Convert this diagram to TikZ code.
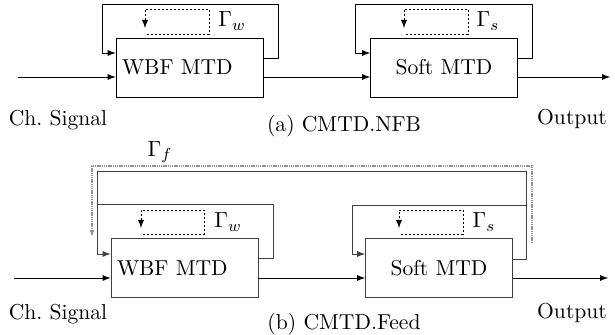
\documentclass[tikz,border=0pt]{standalone}
\usetikzlibrary{arrows,arrows.meta}
\tikzset{
  block/.style={draw, minimum height=29.5pt, inner xsep=3pt, text width=67.5pt},
  sig/.style={-latex},
  fb/.style={draw=black!75, -latex},
  spin/.style={dash pattern=on 1.2pt off 0.8pt, -latex},
  outerfb/.style={draw=gray!85, line width=0.9pt, dash pattern=on 0.7pt off 0.4pt,
    -{Latex[length=3.5pt,width=2.6pt]}}
}
\begin{document}
\begin{tikzpicture}[x=0.5pt,y=-0.5pt,font=\fontsize{10.8pt}{13pt}\selectfont]
  \useasboundingbox (0,0) rectangle (615,335);

  % (a) no feedback between the decoders
  \node[block, align=left] (wbfA) at (189.5,67.5) {WBF MTD};
  \node[block, align=center] (softA) at (444,67.5) {Soft MTD};
  \coordinate (inA) at (18,77);
  \coordinate (outA) at (610,77);
  \node (chA) at (58,120) {Ch.~Signal};
  \node (opA) at (572,119) {Output};
  \node (capA) at (344,126) {(a) CMTD.NFB};

  \draw[sig] (inA) -- (inA -| wbfA.west);
  \draw[sig] (wbfA.east |- inA) -- (softA.west |- inA);
  \draw[sig] (softA.east |- inA) -- (outA);

  \draw[sig] (wbfA.east |- 0,58) -- (278,58) |- (102,4) |- (wbfA.west |- 0,53);
  \draw[sig] (softA.east |- 0,58) -- (532,58) |- (355,4) |- (softA.west |- 0,53);

  \draw[spin] (147,34) -- (209,34) -- (209,9) -- (145,9) -- (145,28);
  \draw[spin] (406,34) -- (468,34) -- (468,9) -- (404,9) -- (404,28);
  \node (gwA) at (232,21) {$\Gamma_w$};
  \node (gsA) at (488,21) {$\Gamma_s$};

  % (b) soft output fed back to the WBF decoder
  \node[block, draw=black!75, align=left] (wbfB) at (184.5,268) {WBF MTD};
  \node[block, draw=black!75, align=center] (softB) at (439,268) {Soft MTD};
  \coordinate (inB) at (14,278);
  \coordinate (outB) at (608,278);
  \node (chB) at (58,314) {Ch.~Signal};
  \node (opB) at (572,313) {Output};
  \node (capB) at (344,324) {(b) CMTD.Feed};

  \draw[sig] (inB) -- (inB -| wbfB.west);
  \draw[sig] (wbfB.east |- inB) -- (softB.west |- inB);
  \draw[sig] (softB.east |- inB) -- (outB);

  \draw[fb] (wbfB.east |- 0,258) -- (273,258) |- (97,204) |- (wbfB.west |- 0,254);
  \draw[fb, -] (softB.east |- 0,259) -- (526,259) |- (97,171) -- (97,204);
  \draw[fb] (526,205) -- (352,205) |- (softB.west |- 0,254);

  \draw[outerfb] (532,243) -- (532,166) -- (92,166) -- (92,237);
  \node (gf) at (160,152) {$\Gamma_f$};

  \draw[spin] (143,234) -- (204,234) -- (204,210) -- (141,210) -- (141,228);
  \draw[spin] (401,234) -- (463,234) -- (463,210) -- (399,210) -- (399,228);
  \node (gwB) at (228,222) {$\Gamma_w$};
  \node (gsB) at (484,222) {$\Gamma_s$};
\end{tikzpicture}
\end{document}
